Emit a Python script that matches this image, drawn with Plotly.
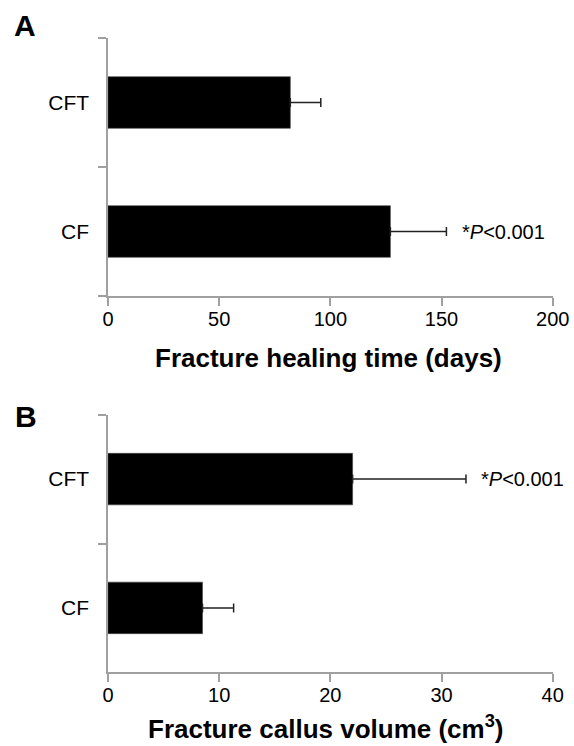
import plotly.graph_objects as go
from plotly.subplots import make_subplots

groups = ["CF", "CFT"]
healing_days = [127, 82]
healing_err = [25.2, 13.7]
callus_vol = [8.5, 22.0]
callus_err = [2.8, 10.2]

title_a = "Fracture healing time (days)"
title_b = "Fracture callus volume (cm<sup>3</sup>)"
sig_text = "*<i>P</i>&lt;0.001"

FONT = "Arial, Liberation Sans, sans-serif"
AXC = "#a0a0a0"

fig = make_subplots(rows=2, cols=1)

for row, vals, errs in [(1, healing_days, healing_err), (2, callus_vol, callus_err)]:
    fig.add_trace(go.Bar(
        y=groups, x=vals, orientation="h", width=0.4,
        marker=dict(color="black", line=dict(color="#444", width=0.6)),
        error_x=dict(type="data", array=errs, arrayminus=[0, 0], symmetric=False,
                     color="#222", thickness=1.5, width=4.5),
        showlegend=False, hoverinfo="skip",
    ), row=row, col=1)

xd = [108 / 574, 552.7 / 574]
fig.update_layout(
    template="none",
    width=574, height=746,
    margin=dict(l=0, r=0, t=0, b=0, autoexpand=False),
    plot_bgcolor="white", paper_bgcolor="white",
    font=dict(family=FONT, size=20, color="black"),
    xaxis=dict(domain=xd, range=[0, 200], dtick=50, anchor="y"),
    yaxis=dict(domain=[1 - 296 / 746, 1 - 38 / 746], anchor="x"),
    xaxis2=dict(domain=xd, range=[0, 40], dtick=10, anchor="y2"),
    yaxis2=dict(domain=[1 - 672.3 / 746, 1 - 414.7 / 746], anchor="x2"),
)
for ax in ["xaxis", "xaxis2"]:
    fig.layout[ax].update(showline=True, linecolor=AXC, linewidth=1.5, ticks="outside",
                          ticklen=8, tickcolor=AXC, tickwidth=1.5, showgrid=False,
                          zeroline=False, tickfont=dict(size=20, family=FONT),
                          ticklabelstandoff=-4, automargin=False)
for ax in ["yaxis", "yaxis2"]:
    fig.layout[ax].update(type="category", categoryorder="array", categoryarray=groups,
                          range=[-0.5, 1.5], showline=True, linecolor=AXC, linewidth=1.5,
                          ticks="outside", tickson="boundaries", ticklen=8, tickcolor=AXC,
                          tickwidth=1.5, showgrid=False, zeroline=False,
                          tickfont=dict(size=21, family=FONT), ticklabelstandoff=13,
                          automargin=False)

anns = [
    dict(text="<b>A</b>", x=24.5 / 574, y=1 - 25.5 / 746, font=dict(size=30)),
    dict(text="<b>B</b>", x=26 / 574, y=1 - 416 / 746, font=dict(size=30)),
    dict(text="<b>" + title_a + "</b>", x=328 / 574, y=1 - 358 / 746, font=dict(size=26)),
    dict(text="<b>" + title_b + "</b>", x=325 / 574, y=1 - 727 / 746, font=dict(size=26)),
]
for a in anns:
    fig.add_annotation(xref="paper", yref="paper", xanchor="center", yanchor="middle",
                       showarrow=False, **a)

fig.add_annotation(xref="x", yref="y", x=healing_days[0] + healing_err[0], y=groups[0],
                   text=sig_text, showarrow=False, xanchor="left", yanchor="middle",
                   xshift=14, font=dict(size=20))
fig.add_annotation(xref="x2", yref="y2", x=callus_vol[1] + callus_err[1], y=groups[1],
                   text=sig_text, showarrow=False, xanchor="left", yanchor="middle",
                   xshift=13, font=dict(size=20))

fig.write_html("out.html", config={"displayModeBar": False},
               post_script="document.body.style.margin='0';document.body.style.overflow='hidden';")
